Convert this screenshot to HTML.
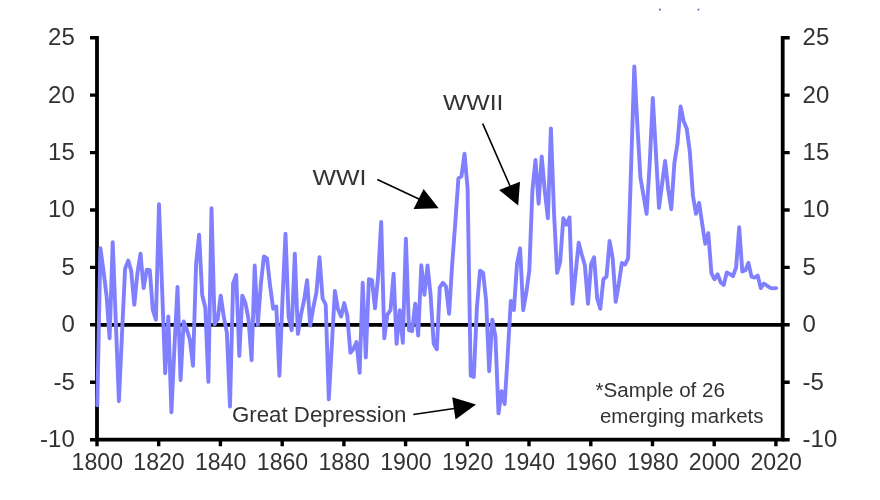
<!DOCTYPE html>
<html><head><meta charset="utf-8"><title>Chart</title>
<style>html,body{margin:0;padding:0;background:#fff}svg{display:block}text{font-family:"Liberation Sans",sans-serif}</style>
</head><body>
<svg width="880" height="500" viewBox="0 0 880 500">
<defs><filter id="soft" x="-2%" y="-2%" width="104%" height="104%"><feGaussianBlur stdDeviation="0.45"/></filter></defs>
<rect width="880" height="500" fill="#fff"/>
<g filter="url(#soft)">
<path d="M97,35.95 V441.45 M782.7,35.95 V441.45 M95.25,439.7 H784.45 M97,324.9 H782.7" stroke="#000" stroke-width="3.8" fill="none"/>
<path d="M90,439.7 H97 M782.7,439.7 H789.7 M90,382.3 H97 M782.7,382.3 H789.7 M90,324.8 H97 M782.7,324.8 H789.7 M90,267.4 H97 M782.7,267.4 H789.7 M90,210.0 H97 M782.7,210.0 H789.7 M90,152.6 H97 M782.7,152.6 H789.7 M90,95.1 H97 M782.7,95.1 H789.7 M90,37.7 H97 M782.7,37.7 H789.7 M97.0,439.7 V446.2 M158.7,439.7 V446.2 M220.4,439.7 V446.2 M282.2,439.7 V446.2 M343.9,439.7 V446.2 M405.6,439.7 V446.2 M467.3,439.7 V446.2 M529.0,439.7 V446.2 M590.8,439.7 V446.2 M652.5,439.7 V446.2 M714.2,439.7 V446.2 M775.9,439.7 V446.2" stroke="#000" stroke-width="3.4" fill="none"/>
<polyline points="97.3,405.3 100.4,248.3 103.5,270.9 106.6,296.2 109.6,338.3 112.7,242.2 115.8,321.5 118.9,401.2 122.0,334.1 125.1,268.6 128.2,260.6 131.2,270.9 134.3,304.7 137.4,273.2 140.5,253.7 143.6,288.1 146.7,269.7 149.8,270.1 152.8,310.0 155.9,319.7 159.0,204.3 162.1,288.7 165.2,373.2 168.3,316.5 171.4,412.2 174.4,347.9 177.5,287.0 180.6,380.1 183.7,321.5 186.8,329.5 189.9,339.8 193.0,365.7 196.1,264.0 199.1,234.7 202.2,295.0 205.3,307.7 208.4,381.8 211.5,208.3 214.6,324.3 217.7,319.2 220.7,295.6 223.8,316.9 226.9,332.9 230.0,406.5 233.1,283.5 236.2,274.9 239.3,355.9 242.3,295.6 245.4,303.1 248.5,319.2 251.6,360.2 254.7,265.5 257.8,324.9 260.9,283.5 263.9,256.4 267.0,258.3 270.1,285.8 273.2,308.8 276.3,306.5 279.4,375.7 282.5,299.6 285.5,233.8 288.6,316.9 291.7,330.2 294.8,253.7 297.9,333.9 301.0,314.6 304.1,300.2 307.1,280.1 310.2,325.6 313.3,307.7 316.4,292.7 319.5,257.1 322.6,298.5 325.7,304.7 328.8,399.4 331.8,345.6 334.9,291.0 338.0,309.3 341.1,316.5 344.2,303.1 347.3,315.7 350.4,352.9 353.4,349.0 356.5,342.1 359.6,372.9 362.7,282.8 365.8,357.5 368.9,279.2 372.0,280.1 375.0,308.4 378.1,276.6 381.2,221.9 384.3,338.3 387.4,314.6 390.5,310.2 393.6,273.8 396.6,343.9 399.7,310.2 402.8,342.9 405.9,238.8 409.0,330.1 412.1,331.1 415.2,303.8 418.2,335.6 421.3,265.2 424.4,294.7 427.5,265.4 430.6,295.0 433.7,343.9 436.8,349.3 439.8,287.4 442.9,282.8 446.0,286.5 449.1,313.8 452.2,264.0 455.3,222.6 458.4,178.3 461.4,176.4 464.5,153.7 467.6,188.2 470.7,375.7 473.8,376.9 476.9,307.7 480.0,270.7 483.1,272.9 486.1,300.2 489.2,371.2 492.3,319.6 495.4,336.4 498.5,413.4 501.6,391.2 504.7,404.0 507.7,354.8 510.8,301.0 513.9,310.0 517.0,264.0 520.1,248.3 523.2,310.2 526.3,292.7 529.3,270.6 532.4,190.5 535.5,160.0 538.6,203.7 541.7,156.5 544.8,191.0 547.9,218.3 550.9,128.4 554.0,212.3 557.1,272.9 560.2,261.7 563.3,218.3 566.4,224.7 569.5,217.4 572.5,303.8 575.6,273.2 578.7,242.7 581.8,254.8 584.9,265.5 588.0,303.8 591.1,264.0 594.1,257.3 597.2,298.5 600.3,308.8 603.4,279.2 606.5,276.6 609.6,241.0 612.7,258.3 615.7,301.9 618.8,283.8 621.9,262.9 625.0,264.6 628.1,258.3 631.2,164.0 634.3,66.4 637.3,123.8 640.4,177.4 643.5,195.5 646.6,213.8 649.7,164.0 652.8,97.9 655.9,152.5 659.0,207.9 662.0,184.7 665.1,160.9 668.2,189.3 671.3,209.2 674.4,162.9 677.5,143.4 680.6,106.4 683.6,121.0 686.7,128.4 689.8,151.4 692.9,195.5 696.0,213.8 699.1,202.9 702.2,223.8 705.2,243.8 708.3,233.2 711.4,273.2 714.5,279.3 717.6,274.3 720.7,282.4 723.8,284.9 726.8,272.4 729.9,274.1 733.0,276.2 736.1,267.4 739.2,227.3 742.3,271.5 745.4,270.2 748.4,262.9 751.5,276.6 754.6,277.6 757.7,275.6 760.8,288.1 763.9,283.5 767.0,285.6 770.0,287.8 773.1,288.4 776.2,288.1" fill="none" stroke="#8080ff" stroke-width="3.9" stroke-linejoin="round" stroke-linecap="round"/>
<g font-size="24" fill="#333"><text x="74.8" y="447.1" text-anchor="end">-10</text><text x="802.6" y="447.1">-10</text><text x="74.8" y="389.7" text-anchor="end">-5</text><text x="802.6" y="389.7">-5</text><text x="74.8" y="332.2" text-anchor="end">0</text><text x="802.6" y="332.2">0</text><text x="74.8" y="274.8" text-anchor="end">5</text><text x="802.6" y="274.8">5</text><text x="74.8" y="217.4" text-anchor="end">10</text><text x="802.6" y="217.4">10</text><text x="74.8" y="160.0" text-anchor="end">15</text><text x="802.6" y="160.0">15</text><text x="74.8" y="102.5" text-anchor="end">20</text><text x="802.6" y="102.5">20</text><text x="74.8" y="45.1" text-anchor="end">25</text><text x="802.6" y="45.1">25</text><text x="97.3" y="470.2" text-anchor="middle" textLength="51.4" lengthAdjust="spacingAndGlyphs">1800</text><text x="159.0" y="470.2" text-anchor="middle" textLength="51.4" lengthAdjust="spacingAndGlyphs">1820</text><text x="220.7" y="470.2" text-anchor="middle" textLength="51.4" lengthAdjust="spacingAndGlyphs">1840</text><text x="282.5" y="470.2" text-anchor="middle" textLength="51.4" lengthAdjust="spacingAndGlyphs">1860</text><text x="344.2" y="470.2" text-anchor="middle" textLength="51.4" lengthAdjust="spacingAndGlyphs">1880</text><text x="405.9" y="470.2" text-anchor="middle" textLength="51.4" lengthAdjust="spacingAndGlyphs">1900</text><text x="467.6" y="470.2" text-anchor="middle" textLength="51.4" lengthAdjust="spacingAndGlyphs">1920</text><text x="529.3" y="470.2" text-anchor="middle" textLength="51.4" lengthAdjust="spacingAndGlyphs">1940</text><text x="591.1" y="470.2" text-anchor="middle" textLength="51.4" lengthAdjust="spacingAndGlyphs">1960</text><text x="652.8" y="470.2" text-anchor="middle" textLength="51.4" lengthAdjust="spacingAndGlyphs">1980</text><text x="714.5" y="470.2" text-anchor="middle" textLength="51.4" lengthAdjust="spacingAndGlyphs">2000</text><text x="776.2" y="470.2" text-anchor="middle" textLength="51.4" lengthAdjust="spacingAndGlyphs">2020</text></g>
<g fill="#333"><text x="312.5" y="184.5" font-size="22" textLength="54" lengthAdjust="spacingAndGlyphs">WWI</text><text x="443" y="109.5" font-size="22" textLength="60.5" lengthAdjust="spacingAndGlyphs">WWII</text><text x="232" y="421.5" font-size="22" textLength="174.5" lengthAdjust="spacingAndGlyphs">Great Depression</text><text x="595.5" y="397" font-size="20.5" textLength="129.5" lengthAdjust="spacingAndGlyphs">*Sample of 26</text><text x="600" y="422.5" font-size="20.5" textLength="163.5" lengthAdjust="spacingAndGlyphs">emerging markets</text></g>
<path d="M377.3,179.5 L420,199.5 M482.7,123.6 L510,186 M413.3,414.5 L456,408.2" stroke="#000" stroke-width="1.6" fill="none"/>
<path d="M438.7,208.2 L423.6,189.1 L413.6,209.1Z M518.2,205.5 L499.1,190 L520,181.8Z M476,404.5 L452.2,397.3 L455.5,419.5Z" fill="#000"/>
<path d="M658.6,8.8 h2.6 l-1,2 h-0.8z M697.2,8.8 h2.4 l-0.8,2 h-0.8z" fill="#4a52a6" opacity="0.85"/>
</g>
</svg>
</body></html>
